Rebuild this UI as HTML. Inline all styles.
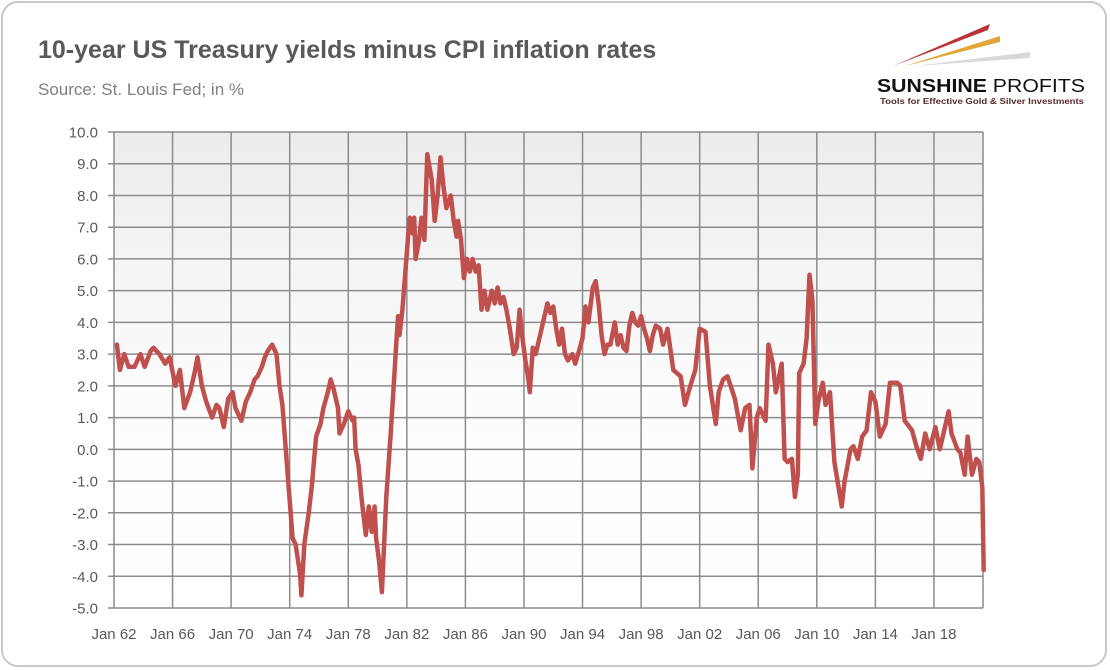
<!DOCTYPE html>
<html><head><meta charset="utf-8"><style>
html,body{margin:0;padding:0;background:#fff;}
svg{display:block;font-family:"Liberation Sans",sans-serif;}
</style></head><body>
<svg id="chart" width="1110" height="670" viewBox="0 0 1110 670">
<defs>
<linearGradient id="bg" x1="0" y1="0" x2="0" y2="1">
<stop offset="0" stop-color="#ececec"/><stop offset="0.55" stop-color="#fcfcfc"/><stop offset="1" stop-color="#ffffff"/>
</linearGradient>
</defs>
<rect x="2" y="2" width="1104" height="664" rx="16" fill="#fff" stroke="#c8c8c8" stroke-width="2"/>
<text x="38" y="58" font-size="25" font-weight="bold" fill="#595959">10-year US Treasury yields minus CPI inflation rates</text>
<text x="38" y="95" font-size="17" fill="#7f7f7f">Source: St. Louis Fed; in %</text>
<g>
<polygon points="893,66 990,24 988,30" fill="#b8343a"/>
<polygon points="905,66 1000,36 1000,42" fill="#e0a63a"/>
<polygon points="915,66 1030,52 1030,58" fill="#d8d8d8"/>
<text x="877" y="92" font-size="18" font-weight="bold" fill="#111" textLength="208" lengthAdjust="spacingAndGlyphs">SUNSHINE <tspan font-weight="normal">PROFITS</tspan></text>
<text x="880" y="104" font-size="8.5" font-weight="bold" fill="#5a2a2a" textLength="204" lengthAdjust="spacingAndGlyphs">Tools for Effective Gold &amp; Silver Investments</text>
</g>
<rect x="114" y="132" width="869" height="476" fill="url(#bg)"/>
<g id="grid"></g>
<g id="ylabels"></g>
<g id="xlabels"></g>
<g id="series"></g>
</svg>
<script>
const years = [1962.2,1962.4,1962.7,1963.0,1963.4,1963.8,1964.1,1964.5,1964.7,1965.1,1965.5,1965.8,1966.2,1966.5,1966.8,1967.2,1967.5,1967.7,1968.0,1968.3,1968.7,1969.0,1969.2,1969.5,1969.8,1970.1,1970.3,1970.7,1971.0,1971.3,1971.6,1971.8,1972.1,1972.3,1972.5,1972.8,1973.1,1973.3,1973.5,1973.7,1973.9,1974.2,1974.4,1974.6,1974.7,1974.8,1975.0,1975.3,1975.5,1975.8,1976.1,1976.3,1976.6,1976.8,1977.0,1977.3,1977.4,1977.7,1978.0,1978.3,1978.4,1978.5,1978.7,1978.9,1979.2,1979.4,1979.6,1979.8,1979.9,1980.1,1980.3,1980.6,1980.9,1981.1,1981.3,1981.4,1981.5,1981.7,1981.8,1981.9,1982.1,1982.2,1982.4,1982.5,1982.6,1982.8,1983.0,1983.2,1983.3,1983.4,1983.7,1983.9,1984.1,1984.3,1984.5,1984.7,1985.0,1985.2,1985.4,1985.5,1985.7,1985.9,1986.1,1986.3,1986.5,1986.7,1986.9,1987.1,1987.3,1987.5,1987.8,1988.0,1988.2,1988.4,1988.6,1988.8,1989.0,1989.3,1989.5,1989.7,1989.9,1990.1,1990.3,1990.4,1990.6,1990.8,1991.1,1991.4,1991.6,1991.8,1992.0,1992.2,1992.4,1992.6,1992.8,1993.0,1993.3,1993.5,1993.7,1994.0,1994.2,1994.4,1994.7,1994.9,1995.1,1995.3,1995.5,1995.7,1995.9,1996.2,1996.4,1996.6,1996.8,1997.0,1997.2,1997.4,1997.6,1997.8,1998.0,1998.2,1998.4,1998.6,1998.8,1999.0,1999.3,1999.5,1999.8,2000.2,2000.7,2001.0,2001.3,2001.7,2002.0,2002.4,2002.7,2003.1,2003.3,2003.6,2003.9,2004.4,2004.8,2005.1,2005.4,2005.6,2005.9,2006.1,2006.5,2006.7,2007.0,2007.2,2007.6,2007.8,2008.0,2008.3,2008.5,2008.7,2008.8,2009.1,2009.3,2009.5,2009.7,2009.9,2010.1,2010.4,2010.6,2010.9,2011.2,2011.7,2011.9,2012.3,2012.5,2012.8,2013.1,2013.4,2013.7,2014.0,2014.3,2014.7,2015.0,2015.5,2015.7,2016.0,2016.5,2016.8,2017.1,2017.4,2017.7,2018.1,2018.4,2018.8,2019.0,2019.2,2019.6,2019.8,2020.1,2020.3,2020.6,2020.9,2021.1,2021.3,2021.4];
const values = [3.3,2.5,3.0,2.6,2.6,3.0,2.6,3.1,3.2,3.0,2.7,2.9,2.0,2.5,1.3,1.8,2.4,2.9,2.0,1.5,1.0,1.4,1.3,0.7,1.6,1.8,1.3,0.9,1.5,1.8,2.2,2.3,2.6,2.9,3.1,3.3,3.0,2.0,1.4,0.2,-1.0,-2.8,-3.0,-3.6,-3.9,-4.6,-3.0,-2.0,-1.2,0.4,0.8,1.3,1.8,2.2,1.9,1.3,0.5,0.8,1.2,0.9,1.0,0.0,-0.5,-1.5,-2.7,-1.8,-2.6,-1.8,-2.8,-3.5,-4.5,-1.5,0.5,2.0,3.5,4.2,3.6,4.4,5.0,5.6,6.8,7.3,6.8,7.3,6.0,6.5,7.3,6.6,8.0,9.3,8.5,7.2,8.0,9.2,8.3,7.6,8.0,7.2,6.7,7.2,6.6,5.4,6.0,5.6,6.0,5.6,5.8,4.4,5.0,4.4,5.0,4.6,5.1,4.6,4.8,4.4,3.9,3.0,3.2,4.4,3.5,2.8,2.2,1.8,3.2,3.0,3.6,4.2,4.6,4.3,4.5,3.8,3.3,3.8,3.0,2.8,3.0,2.7,3.0,3.5,4.5,4.0,5.1,5.3,4.6,3.6,3.0,3.3,3.3,4.0,3.3,3.6,3.2,3.1,3.9,4.3,4.0,3.9,4.2,3.8,3.5,3.1,3.6,3.9,3.8,3.3,3.8,2.5,2.3,1.4,1.9,2.5,3.8,3.7,2.0,0.8,1.8,2.2,2.3,1.6,0.6,1.3,1.4,-0.6,1.0,1.3,0.9,3.3,2.7,1.8,2.7,-0.3,-0.4,-0.3,-1.5,-0.8,2.4,2.7,3.5,5.5,4.7,0.8,1.5,2.1,1.4,1.8,-0.4,-1.8,-1.0,0.0,0.1,-0.3,0.4,0.6,1.8,1.5,0.4,0.8,2.1,2.1,2.0,0.9,0.6,0.1,-0.3,0.5,0.0,0.7,0.0,0.8,1.2,0.5,0.0,-0.1,-0.8,0.4,-0.8,-0.3,-0.4,-1.2,-3.8];
const yTicks = [10,9,8,7,6,5,4,3,2,1,0,-1,-2,-3,-4,-5];
const xTickYears = [1962,1966,1970,1974,1978,1982,1986,1990,1994,1998,2002,2006,2010,2014,2018];
const xTickLabels = ["Jan 62","Jan 66","Jan 70","Jan 74","Jan 78","Jan 82","Jan 86","Jan 90","Jan 94","Jan 98","Jan 02","Jan 06","Jan 10","Jan 14","Jan 18"];

const NS = "http://www.w3.org/2000/svg";
const X0 = 114, X1 = 983, Y0 = 132, Y1 = 608;
const XMIN = 1962, XMAX = 2021.35, YMIN = -5, YMAX = 10;
function xs(v){ return X0 + (v - XMIN) / (XMAX - XMIN) * (X1 - X0); }
function ys(v){ return Y1 - (v - YMIN) / (YMAX - YMIN) * (Y1 - Y0); }
function mk(tag, attrs){ const e = document.createElementNS(NS, tag); for (const k in attrs) e.setAttribute(k, attrs[k]); return e; }

const grid = document.getElementById('grid');
const yl = document.getElementById('ylabels');
const xl = document.getElementById('xlabels');
yTicks.forEach(t => {
  const y = ys(t);
  const ln = mk('line', {x1: 108, x2: X1, y1: y, y2: y, stroke: '#8c8c8c', 'stroke-width': 1.5});
  
  
  grid.appendChild(ln);
  const tx = mk('text', {x: 98, y: y + 5.5, 'text-anchor': 'end', 'font-size': 15, fill: '#595959'});
  tx.textContent = t.toFixed(1);
  
  
  yl.appendChild(tx);
});
xTickYears.forEach((yr, i) => {
  const x = xs(yr);
  const ln = mk('line', {x1: x, x2: x, y1: Y0, y2: Y1, stroke: '#8c8c8c', 'stroke-width': 1.5});
  
  
  grid.appendChild(ln);
  const tx = mk('text', {x: x, y: 639, 'text-anchor': 'middle', 'font-size': 15, fill: '#595959'});
  tx.textContent = xTickLabels[i];
  
  
  xl.appendChild(tx);
});
const rl = mk('line', {x1: X1, x2: X1, y1: Y0, y2: Y1, stroke: '#8c8c8c', 'stroke-width': 1.5});


grid.appendChild(rl);

let d = '';
years.forEach((yr, i) => { d += (i ? 'L' : 'M') + xs(yr).toFixed(1) + ',' + ys(values[i]).toFixed(1); });
const path = mk('path', {d: d, fill: 'none', stroke: '#c0504d', 'stroke-width': 4.5, 'stroke-linejoin': 'round', 'stroke-linecap': 'round'});


document.getElementById('series').appendChild(path);
</script>
</body></html>
